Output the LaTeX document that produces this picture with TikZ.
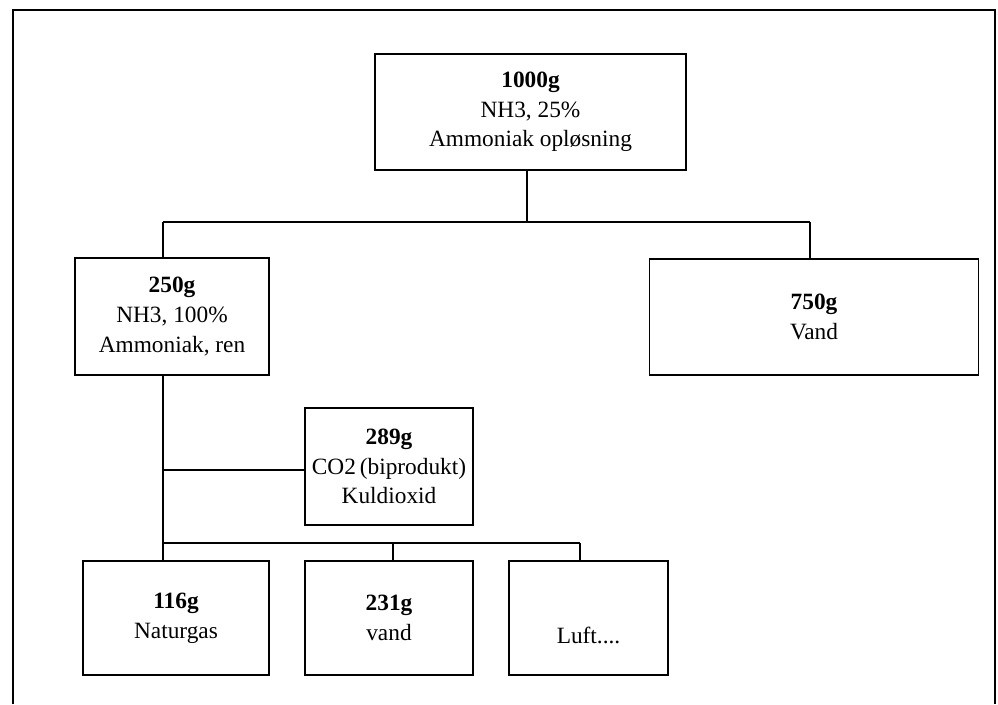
\documentclass[tikz,border=0pt]{standalone}
\usepackage{fontspec}
\setmainfont{Liberation Serif}
\begin{document}
\begin{tikzpicture}[x=0.75pt,y=-0.75pt,
  line width=1.3pt,
  massbox/.style={draw, rectangle, inner sep=0pt, align=center,
    font=\fontsize{17.5}{22.2}\selectfont},
  boxsize/.style 2 args={minimum width={#1*0.75pt}, minimum height={#2*0.75pt}},
]
\useasboundingbox (0,0) rectangle (998,704);

% outer frame (open at the bottom)
\draw (13,704) -- (13,10) -- (995,10) -- (995,704);

% boxes
\node[massbox, boxsize={311}{116}] (top) at (530.5,112)
  {\textbf{1000g}\\NH3, 25\%\\Ammoniak opløsning};
\node[massbox, boxsize={194}{117}] (b250) at (172,316.5)
  {\textbf{250g}\\NH3, 100\%\\Ammoniak, ren};
\node[massbox, boxsize={329}{116}] (b750) at (814,317)
  {\textbf{750g}\\Vand};
\node[massbox, boxsize={168}{117}] (b289) at (389,466.5)
  {\textbf{289g}\\CO2\,(biprodukt)\\Kuldioxid};
\node[massbox, boxsize={186}{114}] (b116) at (176,618)
  {\textbf{116g}\\Naturgas};
\node[massbox, boxsize={168}{114}] (b231) at (389,618)
  {\textbf{231g}\\vand};
\node[massbox, boxsize={159}{114}] (bluft) at (588.5,618)
  {\strut\\Luft....};

% first split
\coordinate (t0) at (527,222);
\coordinate (l0) at (163,222);
\coordinate (r0) at (810,222);
\draw (top.south -| t0) -- (t0);
\draw (l0) -- (r0);
\draw (l0) -- (l0 |- b250.north);
\draw (r0) -- (r0 |- b750.north);

% trunk below the pure ammonia
\coordinate (c0) at (163,470);
\coordinate (s0) at (163,543);
\coordinate (s1) at (393,543);
\coordinate (s2) at (580,543);
\draw (s0 |- b250.south) -- (s0);
\draw (c0) -- (c0 -| b289.west);
\draw (s0) -- (s2);
\draw (s0) -- (s0 |- b116.north);
\draw (s1) -- (s1 |- b231.north);
\draw (s2) -- (s2 |- bluft.north);
\end{tikzpicture}
\end{document}
